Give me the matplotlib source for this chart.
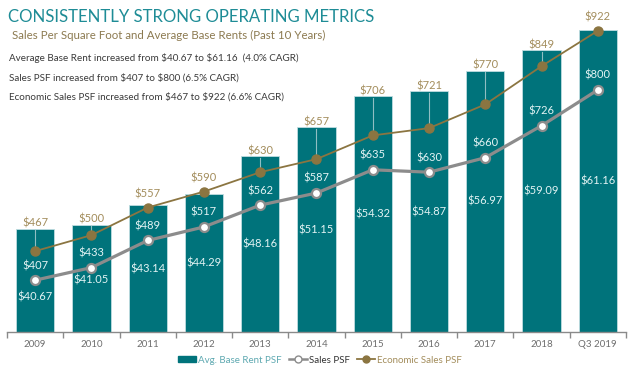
import matplotlib.pyplot as plt
from matplotlib.lines import Line2D
from matplotlib.patches import Patch

plt.rcParams['font.family'] = ['Lato', 'DejaVu Sans']
plt.rcParams['text.parse_math'] = False

years = ['2009', '2010', '2011', '2012', '2013', '2014', '2015', '2016', '2017', '2018', 'Q3 2019']
avg_rent = [40.67, 41.05, 43.14, 44.29, 48.16, 51.15, 54.32, 54.87, 56.97, 59.09, 61.16]
sales_psf = [407, 433, 489, 517, 562, 587, 635, 630, 660, 726, 800]
econ_sales_psf = [467, 500, 557, 590, 630, 657, 706, 721, 770, 849, 922]

# where the rent labels sit inside the bars (rent axis units)
rent_label_y = [33.6, 35.4, 36.5, 37.15, 39.05, 40.5, 42.15, 42.4, 43.5, 44.55, 45.6]

teal = '#00737B'
gold = '#8B7541'
gold_txt = '#A38D5C'
grey_line = '#8C8C8C'
label_col = '#E3F3F4'

fig = plt.figure(figsize=(6.4, 3.69), dpi=100)
ax = fig.add_axes([0.011, 0.1003, 0.967, 0.8726])
ax2 = ax.twinx()

x = list(range(len(years)))
ax.bar(x, avg_rent, width=0.68, color=teal, edgecolor='#BFDDE0', linewidth=0.6, zorder=2)
ax.set_xlim(-0.5, len(years) - 0.5)
ax.set_ylim(30, 63.23)
ax2.set_ylim(300, 965)


def rent_to_line(v):
    return 300 + (v - 30) * 20


ax2.plot(x, econ_sales_psf, color=gold, lw=1.3, marker='o', ms=6.5,
         markerfacecolor=gold, markeredgecolor=gold, zorder=4)
ax2.plot(x, sales_psf, color=grey_line, lw=2.3, marker='o', ms=6.5,
         markerfacecolor='white', markeredgecolor=grey_line, markeredgewidth=1.6, zorder=5)

for i in x:
    # economic sales label above the bar (or above the marker if that is higher)
    top = rent_to_line(avg_rent[i])
    ly = max(top + 11.5, econ_sales_psf[i] + 29)
    ax2.text(i, ly, '$%d' % econ_sales_psf[i], ha='center', va='center',
             fontsize=8, color=gold_txt, zorder=6)
    if top - econ_sales_psf[i] > 8:
        ax2.plot([i, i], [top - 3, econ_sales_psf[i]], color='#8FBEC3', lw=0.8, zorder=3)
    ax2.annotate('$%d' % sales_psf[i], (i, sales_psf[i]), xytext=(0, 10.5),
                 textcoords='offset points', ha='center', va='center',
                 fontsize=8, color=label_col, zorder=6)
    ax.text(i, rent_label_y[i], '$%.2f' % avg_rent[i], ha='center', va='center',
            fontsize=8, color=label_col, zorder=6)

for a in (ax, ax2):
    for s in ('top', 'left', 'right'):
        a.spines[s].set_visible(False)
    a.set_yticks([])
ax2.spines['bottom'].set_visible(False)
ax.spines['bottom'].set_color('#8A8A8A')
ax.spines['bottom'].set_linewidth(1.0)
ax.set_xticks(x)
ax.set_xticklabels(years, fontsize=7, color='#6E6E6E')
ax.tick_params(axis='x', which='major', length=0, pad=6)
ax.set_xticks([i - 0.5 for i in range(len(years) + 1)], minor=True)
ax.tick_params(axis='x', which='minor', length=4, color='#8A8A8A', width=1.0)

fig.text(0.012, 0.955, 'CONSISTENTLY STRONG OPERATING METRICS', fontsize=12.1,
         color='#1E8C96', va='center', ha='left')
fig.text(0.018, 0.905, 'Sales Per Square Foot and Average Base Rents (Past 10 Years)',
         fontsize=8.3, color='#8C7A50', va='center', ha='left')
notes = ['Average Base Rent increased from $40.67 to $61.16  (4.0% CAGR)',
         'Sales PSF increased from $407 to $800 (6.5% CAGR)',
         'Economic Sales PSF increased from $467 to $922 (6.6% CAGR)']
for k, t in enumerate(notes):
    fig.text(0.014, 0.843 - k * 0.053, t, fontsize=7.1, color='#3A3A3A',
             va='center', ha='left')

handles = [Patch(facecolor=teal, edgecolor=teal),
           Line2D([], [], color=grey_line, lw=1.8, marker='o', ms=5,
                  markerfacecolor='white', markeredgecolor=grey_line),
           Line2D([], [], color=gold, lw=1.3, marker='o', ms=5,
                  markerfacecolor=gold, markeredgecolor=gold)]
leg = fig.legend(handles, ['Avg. Base Rent PSF', 'Sales PSF', 'Economic Sales PSF'],
                 loc='center', bbox_to_anchor=(0.5, 0.024), ncol=3, frameon=False,
                 fontsize=7, handlelength=1.8, handletextpad=0.2, columnspacing=0.8,
                 handleheight=0.6)
for txt, c in zip(leg.get_texts(), ['#5FA9B1', '#333333', '#A38D5C']):
    txt.set_color(c)

fig.savefig('out.png', dpi=100)
